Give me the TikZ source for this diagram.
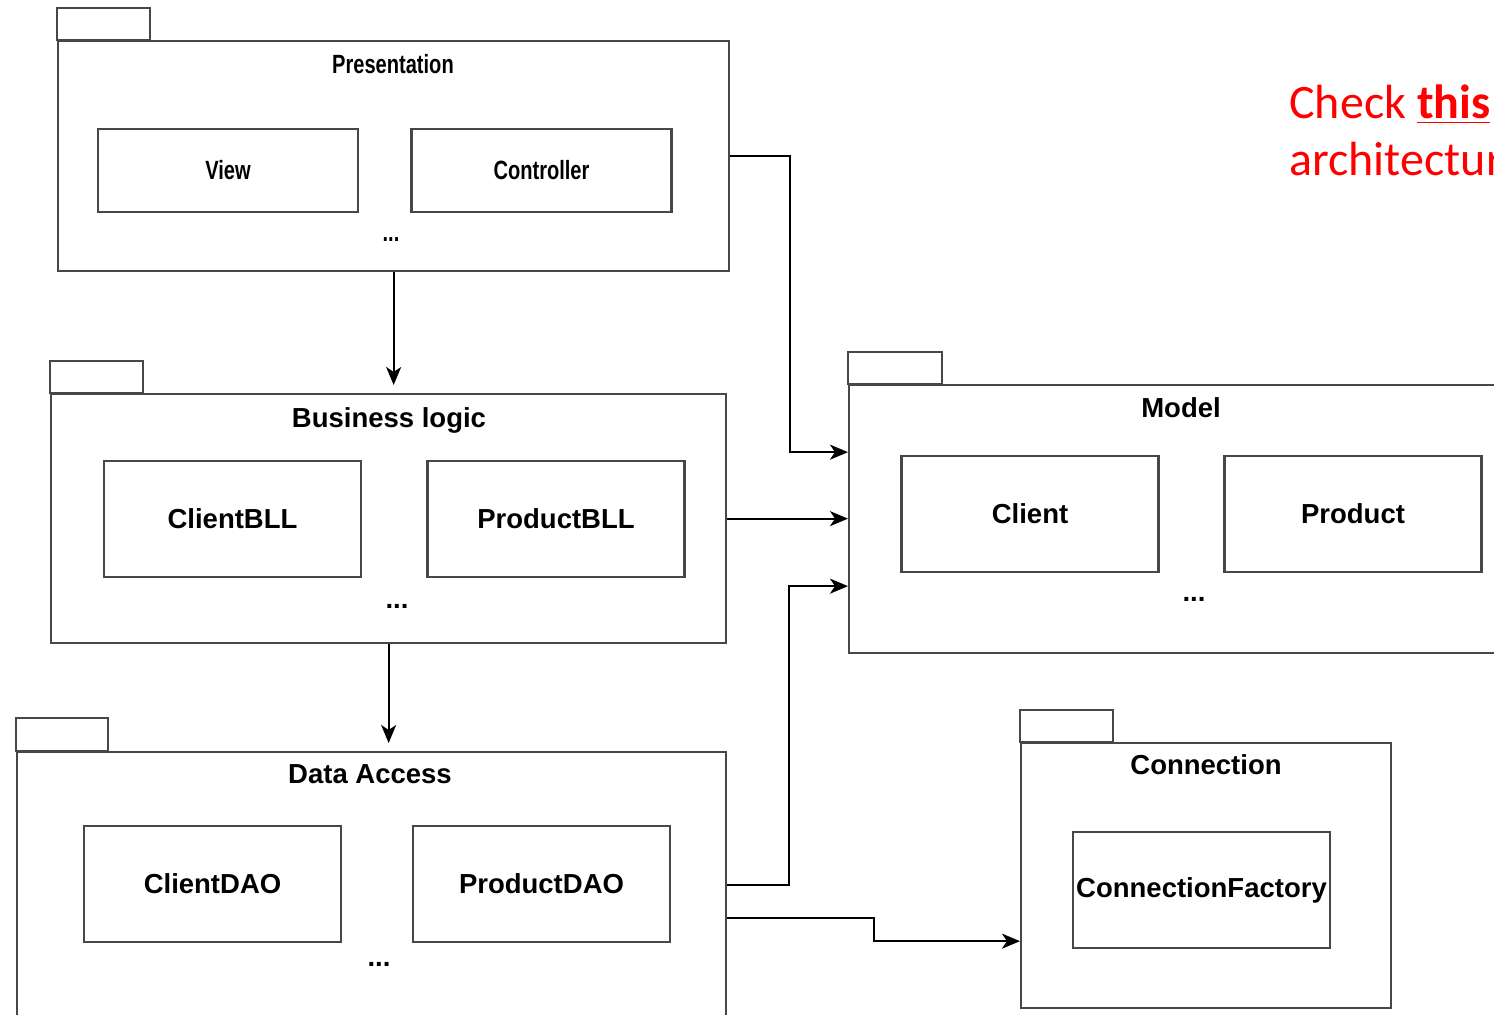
\documentclass[tikz,border=0pt]{standalone}
\usepackage{fontspec}
\setmainfont{Liberation Sans}
\newfontfamily\notefont{Carlito}
\newfontfamily\narrowfont[FakeStretch=0.76]{Liberation Sans}
\usetikzlibrary{calc,arrows.meta}

\begin{document}
\begin{tikzpicture}[x=0.5pt,y=-0.5pt,
		pkg/.style={draw=black!72,line width=1.15pt,anchor=north west,inner sep=0pt},
		pkgtab/.style={draw=black!72,line width=1.15pt},
		cls/.style={draw=black!72,line width=1.15pt,inner sep=0pt,minimum width=128.5pt,minimum height=58pt,font=\bfseries\fontsize{13.75}{16}\selectfont},
		pkgtitle/.style={inner sep=0pt,font=\bfseries\fontsize{13.75}{16}\selectfont},
		narrowlabel/.style={font=\narrowfont\bfseries\fontsize{13.2}{15}\selectfont},
		arr/.style={-{Stealth[length=9pt,width=7.5pt,inset=2.5pt]},line width=1.05pt}]
			%%%%% START %%%%%
			\useasboundingbox (0,0) rectangle (1494,1015);
			\clip (0,0) rectangle (1494,1015);
			
			% Presentation
			\node[pkg,minimum width=335.5pt,minimum height=115pt] (pres) at (57,40) {};
			\draw[pkgtab] (pres.north west) rectangle ++(93,-32);
			\node[pkgtitle,narrowlabel] (presT) at (393,64) {Presentation};
			\node[cls,narrowlabel,minimum width=130pt,minimum height=41.5pt] (view) at (228,170.5) {View};
			\node[cls,narrowlabel,minimum width=130pt,minimum height=41.5pt] (ctrl) at (541.5,170.5) {Controller};
			\node[pkgtitle,narrowlabel] (presD) at (391,240) {...};
			
			% Business logic
			\node[pkg,minimum width=337.5pt,minimum height=124.5pt] (bll) at (50,393) {};
			\draw[pkgtab] (bll.north west) rectangle ++(93,-32);
			\node[pkgtitle] (bllT) at (389,420) {Business logic};
			\node[cls] (cbll) at (232.5,519) {ClientBLL};
			\node[cls] (pbll) at (556,519) {ProductBLL};
			\node[pkgtitle] (bllD) at (397,606) {...};
			
			% Data Access
			\node[pkg,minimum width=354.5pt,minimum height=150pt] (dao) at (16,751) {};
			\draw[pkgtab] (dao.north west) rectangle ++(92,-33);
			\node[pkgtitle] (daoT) at (370,774) {Data Access};
			\node[cls] (cdao) at (212.5,884) {ClientDAO};
			\node[cls] (pdao) at (541.5,884) {ProductDAO};
			\node[pkgtitle] (daoD) at (379,964) {...};
			
			% Model
			\node[pkg,minimum width=350pt,minimum height=134pt] (model) at (848,384) {};
			\draw[pkgtab] (model.north west) rectangle ++(94,-32);
			\node[pkgtitle] (modelT) at (1181,408) {Model};
			\node[cls] (client) at (1030,514) {Client};
			\node[cls] (product) at (1353,514) {Product};
			\node[pkgtitle] (modelD) at (1194,599) {...};
			
			% Connection
			\node[pkg,minimum width=185pt,minimum height=132.5pt] (conn) at (1020,742) {};
			\draw[pkgtab] (conn.north west) rectangle ++(93,-32);
			\node[pkgtitle] (connT) at (1206,765) {Connection};
			\node[cls] (cfac) at (1201.5,890) {ConnectionFactory};
			
			% note
			\node[anchor=base west,inner sep=0pt,text=red,font=\notefont\fontsize{24}{28}\selectfont] (note1) at (1289,119) {Check \underline{\textbf{this}}};
			\node[anchor=base west,inner sep=0pt,text=red,font=\notefont\fontsize{24}{28}\selectfont] (note2) at (1289,176) {architecture};
			
			% dependencies
			\draw[arr,shorten >=4pt] (pres.south) -- (pres.south |- bll.north);
			\draw[arr,shorten >=4pt] (bll.south) -- (bll.south |- dao.north);
			\draw[arr] (pres.east) -- ++(60,0) |- ($(model.west)+(0,-67)$);
			\draw[arr] (bll.east) -- (bll.east -| model.west);
			\draw[arr] ($(dao.north east)+(0,134)$) -- ++(62,0) |- ($(model.west)+(0,67)$);
			\draw[arr] ($(dao.north east)+(0,167)$) -- ++(147,0) |- ($(conn.west)+(0,65.5)$);
			
			%%%%% END %%%%%
		\end{tikzpicture}
\end{document}
